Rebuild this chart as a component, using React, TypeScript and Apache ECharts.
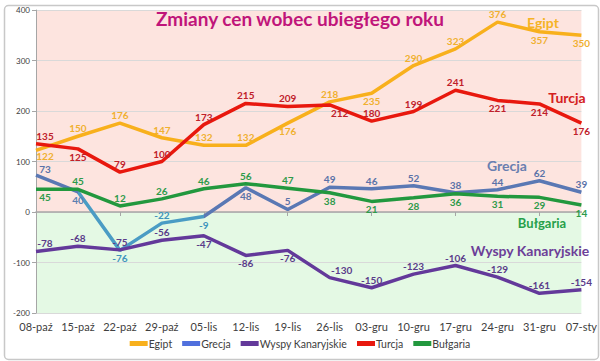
import React, { useEffect, useRef } from "react";
import * as echarts from "echarts";

const categories = ["08-paź", "15-paź", "22-paź", "29-paź", "05-lis", "12-lis", "19-lis", "26-lis", "03-gru", "10-gru", "17-gru", "24-gru", "31-gru", "07-sty"];
const egipt = [122, 150, 176, 147, 132, 132, 176, 218, 235, 290, 323, 376, 357, 350];
const turcja = [135, 125, 79, 100, 173, 215, 209, 212, 180, 199, 241, 221, 214, 176];
const grecja = [73, 40, -76, -22, -9, 48, 5, 49, 46, 52, 38, 44, 62, 39];
const wyspy = [-78, -68, -75, -56, -47, -86, -76, -130, -150, -123, -106, -129, -161, -154];
const bulgaria = [45, 45, 12, 26, 46, 56, 47, 38, 21, 28, 36, 31, 29, 14];
const yTicks = [-200, -100, 0, 100, 200, 300, 400];

// label placement: 1 = above, 0 = below
const egiptPos = [0, 1, 1, 1, 1, 1, 0, 1, 0, 1, 1, 1, 0, 0];
const turcjaPos = [1, 0, 1, 1, 1, 1, 1, 0, 1, 1, 1, 0, 0, 0];
const grecjaPos = [1, 0, 0, 1, 0, 0, 1, 1, 1, 1, 1, 1, 1, 1];
const wyspyPos = [1, 1, 1, 1, 0, 0, 0, 1, 1, 1, 1, 1, 1, 1];
const bulgariaPos = [0, 1, 1, 1, 1, 1, 1, 0, 0, 0, 0, 0, 0, 0];

const C = {
  egipt: "#F8B01C",
  turcja: "#E8180E",
  grecja: "#5A78B4",
  grecjaTeal: "#4A9CC4",
  wyspy: "#63399A",
  bulgaria: "#22983E",
};
const L = {
  egipt: "#F0B030",
  turcja: "#C0202A",
  grecja: "#5B72A8",
  wyspy: "#5A3C8A",
  bulgaria: "#2E9A4A",
};

const FONT = "Lato, 'Noto Sans', sans-serif";

function mk(values: number[], pos: number[], color: string, overrides?: Record<number, string>) {
  return values.map((v, i) => ({
    value: v,
    label: {
      position: pos[i] ? "top" : "bottom",
      color: overrides && overrides[i] ? overrides[i] : color,
    },
  }));
}

function shifter(shifts: Record<number, [number, number]> = {}) {
  return (p: any) => {
    const i = p.dataIndex;
    let d: [number, number] = [i === 0 ? 9 : 0, 0];
    if (shifts[i] !== undefined) d = shifts[i];
    return { dx: d[0], dy: d[1], hideOverlap: false };
  };
}

export default function App() {
  const ref = useRef<HTMLDivElement>(null);
  useEffect(() => {
    if (!ref.current) return;
    const chart = echarts.init(ref.current, undefined, { renderer: "svg" });
    const baseLabel = {
      show: true,
      fontSize: 10,
      fontWeight: "bold" as const,
      fontFamily: FONT,
      distance: 3,
    };
    const line = (name: string, color: string, data: any[], shifts: Record<number, [number, number]> = {}, extra: any = {}) => ({
      name,
      type: "line",
      data,
      symbol: "circle",
      symbolSize: 0,
      showSymbol: true,
      lineStyle: { width: 3.5, color },
      itemStyle: { color },
      label: baseLabel,
      labelLayout: shifter(shifts),
      ...extra,
    });
    chart.setOption({
      animation: false,
      backgroundColor: "#ffffff",
      textStyle: { fontFamily: FONT },
      grid: { left: 36, right: 14, top: 10, bottom: 48, containLabel: false },
      title: {
        text: "Zmiany cen wobec ubiegłego roku",
        left: "center",
        top: 4,
        textStyle: { color: "#C0157A", fontSize: 19, fontWeight: "bold", fontFamily: FONT },
      },
      legend: {
        bottom: 7,
        left: "center",
        icon: "rect",
        itemWidth: 18,
        itemHeight: 5,
        itemGap: 10,
        textStyle: { color: "#404040", fontSize: 10.5, fontFamily: FONT, padding: [0, 0, 0, -4] },
        data: ["Egipt", "Grecja", "Wyspy Kanaryjskie", "Turcja", "Bułgaria"],
      },
      visualMap: {
        show: false,
        type: "piecewise",
        seriesIndex: 1,
        dimension: 0,
        pieces: [{ gte: 1, lte: 4, color: C.grecjaTeal }],
        outOfRange: { color: C.grecja },
      },
      xAxis: [
        {
          type: "category",
          data: categories,
          boundaryGap: false,
          axisLine: { show: false, onZero: false },
          axisTick: { show: false },
          axisLabel: { color: "#404040", fontSize: 11, fontFamily: FONT, margin: 8, interval: 0 },
        },
        {
          type: "category",
          data: categories,
          boundaryGap: false,
          position: "bottom",
          axisLine: { show: true, onZero: true, lineStyle: { color: "#A6A6A6", width: 1.5 } },
          axisTick: { show: true, length: 4, lineStyle: { color: "#A6A6A6" } },
          axisLabel: { show: false },
        },
      ],
      yAxis: {
        type: "value",
        min: yTicks[0],
        max: yTicks[yTicks.length - 1],
        interval: 100,
        axisLine: { show: true, lineStyle: { color: "#A6A6A6" } },
        axisTick: { show: true, length: 4, lineStyle: { color: "#A6A6A6" } },
        axisLabel: { color: "#404040", fontSize: 8, fontFamily: FONT, margin: 6 },
        splitLine: { lineStyle: { color: "#D9D9D9", width: 1 } },
      },
      series: [
        line("Egipt", C.egipt, mk(egipt, egiptPos, L.egipt), { 0: [9, -2] }, {
          z: 3,
          markArea: {
            silent: true,
            itemStyle: { opacity: 1 },
            data: [
              [{ yAxis: 0, itemStyle: { color: "#FDE4DF" } }, { yAxis: 400 }],
              [{ yAxis: -200, itemStyle: { color: "#E4F9E4" } }, { yAxis: 0 }],
            ],
            z: -1,
          },
        }),
        line("Grecja", C.grecja, mk(grecja, grecjaPos, L.grecja, { 1: "#5B7FB0", 2: "#3F93BD", 3: "#3F93BD", 4: "#3F93BD" }), { 0: [9, 2] }, {
          lineStyle: { width: 3.5 },
          itemStyle: {},
        }),
        line("Wyspy Kanaryjskie", C.wyspy, mk(wyspy, wyspyPos, L.wyspy), { 7: [12, 0] }),
        line("Turcja", C.turcja, mk(turcja, turcjaPos, L.turcja), { 7: [10, 0] }, { z: 4 }),
        line("Bułgaria", C.bulgaria, mk(bulgaria, bulgariaPos, L.bulgaria)),
      ],
      graphic: [
        {
          type: "rect",
          left: 2,
          top: 3,
          shape: { width: 594, height: 354, r: 4 },
          style: { fill: "none", stroke: "#C8C8C8", lineWidth: 1.5 },
          z: 100,
          silent: true,
        },
        { type: "text", x: 543, y: 22, style: { text: "Egipt", fill: "#F5B325", font: `bold 14px ${FONT}`, textAlign: "center", textVerticalAlign: "middle" }, z: 50 },
        { type: "text", x: 567, y: 97, style: { text: "Turcja", fill: "#D42020", font: `bold 14px ${FONT}`, textAlign: "center", textVerticalAlign: "middle" }, z: 50 },
        { type: "text", x: 507, y: 165, style: { text: "Grecja", fill: "#6A7FB0", font: `bold 14px ${FONT}`, textAlign: "center", textVerticalAlign: "middle" }, z: 50 },
        { type: "text", x: 542, y: 223, style: { text: "Bułgaria", fill: "#27A049", font: `bold 13px ${FONT}`, textAlign: "center", textVerticalAlign: "middle" }, z: 50 },
        { type: "text", x: 530, y: 250, style: { text: "Wyspy Kanaryjskie", fill: "#6C3F98", font: `bold 14px ${FONT}`, textAlign: "center", textVerticalAlign: "middle" }, z: 50 },
      ],
    });
    return () => chart.dispose();
  }, []);
  return <div ref={ref} style={{ width: 600, height: 361, position: "absolute", left: 0, top: 0 }} />;
}
